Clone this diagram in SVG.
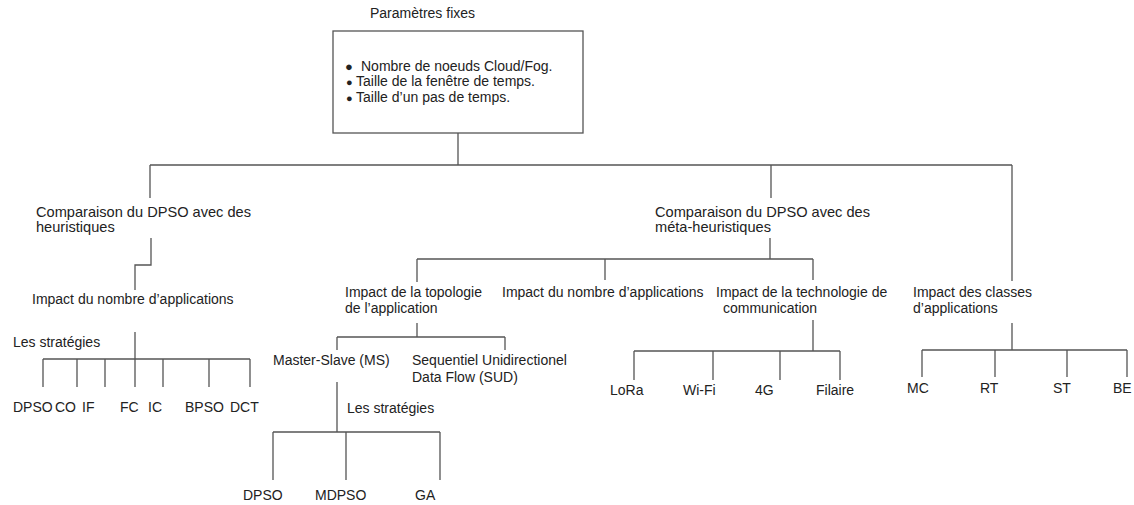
<svg xmlns="http://www.w3.org/2000/svg" width="1134" height="505" viewBox="0 0 1134 505">
<style>
text{font-family:"Liberation Sans",Arial,sans-serif;font-size:14px;fill:#222}
.c path{fill:none;stroke:#555;stroke-width:1.3}
.box{fill:#fff;stroke:#555;stroke-width:1.3}
.b1{font-size:13px}
.b2{font-size:11px}
.w{font-size:14.6px}
</style>
<rect width="1134" height="505" fill="#fff"/>
<g class="c" id="connectors">
<path d="M458 133V165M150 165H1012M150 165V198M771 165V198M1012 165V281"/>
<path d="M151 238V265H135V290M135 332V387M43 359H250M43 359V387M77 359V387M105 359V387M163 359V387M209 359V387M250 359V387"/>
<path d="M770 238V259M417 259H813M417 259V282M605 259V280M813 259V280"/>
<path d="M417 323V337M337 337H505M337 337V350M505 337V350"/>
<path d="M337 382V432M273 432H440M273 432V480M346 432V480M440 432V480"/>
<path d="M813 320V351M634 351H840M634 351V380M713 351V380M780 351V380M840 351V380"/>
<path d="M1012 323V350M922 350H1127M922 350V377M995 350V377M1067 350V377M1127 350V377"/>
</g>
<g id="fixed">
<text x="370" y="18">Paramètres fixes</text>
<rect class="box" x="333" y="31" width="250" height="102"/>
<text class="b1" x="345" y="71">●</text><text x="361" y="71">Nombre de noeuds Cloud/Fog.</text>
<text class="b2" x="346" y="86">●</text><text x="356" y="86">Taille de la fenêtre de temps.</text>
<text class="b2" x="346" y="102">●</text><text x="356" y="102">Taille d’un pas de temps.</text>
</g>
<g id="heur" class="w"><text class="w" x="36" y="217">Comparaison du DPSO avec des</text><text class="w" x="36" y="232">heuristiques</text></g>
<g id="heur-app"><text x="32" y="304">Impact du nombre d’applications</text></g>
<g id="heur-strat"><text x="13" y="347">Les stratégies</text></g>
<g id="heur-leaves">
<text x="13" y="412">DPSO</text><text x="55" y="412">CO</text><text x="82" y="412">IF</text><text x="120" y="412">FC</text><text x="148" y="412">IC</text><text x="185" y="412">BPSO</text><text x="230" y="412">DCT</text>
</g>
<g id="meta"><text class="w" x="655" y="217">Comparaison du DPSO avec des</text><text class="w" x="655" y="232">méta-heuristiques</text></g>
<g id="topo"><text x="345" y="297">Impact de la topologie</text><text x="345" y="313">de l’application</text></g>
<g id="meta-app"><text x="502" y="297">Impact du nombre d’applications</text></g>
<g id="tech"><text x="716" y="297">Impact de la technologie de</text><text x="723" y="313">communication</text></g>
<g id="classes"><text x="913" y="297">Impact des classes</text><text x="913" y="313">d’applications</text></g>
<g id="ms"><text x="273" y="365">Master-Slave (MS)</text></g>
<g id="sud"><text x="412" y="365">Sequentiel Unidirectionel</text><text x="412" y="382">Data Flow (SUD)</text></g>
<g id="ms-strat"><text x="347" y="413">Les stratégies</text></g>
<g id="ms-leaves"><text x="243" y="500">DPSO</text><text x="315" y="500">MDPSO</text><text x="415" y="500">GA</text></g>
<g id="tech-leaves"><text x="610" y="395">LoRa</text><text x="683" y="395">Wi-Fi</text><text x="755" y="395">4G</text><text x="816" y="395">Filaire</text></g>
<g id="class-leaves"><text x="907" y="393">MC</text><text x="980" y="393">RT</text><text x="1053" y="393">ST</text><text x="1113" y="393">BE</text></g>
</svg>
